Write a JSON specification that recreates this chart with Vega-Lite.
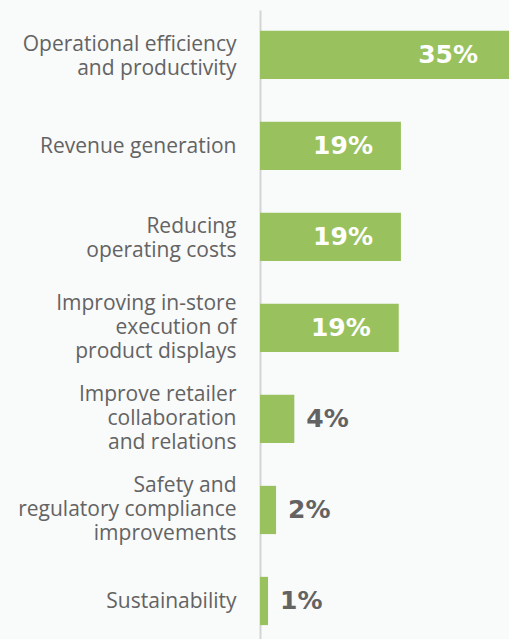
{
  "$schema": "https://vega.github.io/schema/vega-lite/v6.json",
  "autosize": "none",
  "width": 249,
  "height": 629,
  "padding": {"left": 260, "top": 10, "right": 0, "bottom": 0},
  "background": "#f9fafa",
  "config": {"view": {"stroke": null}},
  "data": {"values": [
    {"cat": "Operational efficiency|and productivity", "value": 35, "label": "35%", "pos": "in1"},
    {"cat": "Revenue generation", "value": 19.3, "label": "19%", "pos": "in"},
    {"cat": "Reducing|operating costs", "value": 19.3, "label": "19%", "pos": "in"},
    {"cat": "Improving in-store|execution of|product displays", "value": 19.0, "label": "19%", "pos": "in"},
    {"cat": "Improve retailer|collaboration|and relations", "value": 4.7, "label": "4%", "pos": "out"},
    {"cat": "Safety and|regulatory compliance|improvements", "value": 2.2, "label": "2%", "pos": "out"},
    {"cat": "Sustainability", "value": 1.1, "label": "1%", "pos": "out"}
  ]},
  "encoding": {
    "y": {
      "field": "cat", "type": "nominal", "sort": null,
      "scale": {"paddingInner": 0.47, "paddingOuter": 0.191, "align": 0.6},
      "axis": {
        "title": null, "ticks": false, "labelPadding": 24,
        "labelExpr": "split(datum.label, '|')",
        "labelFont": "Open Sans", "labelFontSize": 21, "labelColor": "#636363",
        "labelLineHeight": 24, "labelLimit": 400,
        "labelOffset": {"condition": [
          {"test": "length(split(datum.value, '|')) == 3", "value": -24},
          {"test": "length(split(datum.value, '|')) == 2", "value": -10}
        ], "value": 1},
        "domainColor": "#d4d4d4", "domainWidth": 2
      }
    },
    "x": {
      "field": "value", "type": "quantitative",
      "scale": {"domain": [0, 34.1], "nice": false, "zero": true},
      "axis": null
    }
  },
  "layer": [
    {"mark": {"type": "bar", "color": "#99c25f", "clip": true}},
    {
      "transform": [{"filter": "datum.pos == 'in1'"}],
      "mark": {"type": "text", "align": "right", "baseline": "middle", "dx": -31, "font": "DejaVu Sans", "fontWeight": "bold", "fontSize": 25, "color": "#ffffff"},
      "encoding": {"text": {"field": "label"}, "x": {"datum": 34.1}}
    },
    {
      "transform": [{"filter": "datum.pos == 'in'"}],
      "mark": {"type": "text", "align": "right", "baseline": "middle", "dx": -28, "font": "DejaVu Sans", "fontWeight": "bold", "fontSize": 25, "color": "#ffffff"},
      "encoding": {"text": {"field": "label"}}
    },
    {
      "transform": [{"filter": "datum.pos == 'out'"}],
      "mark": {"type": "text", "align": "left", "baseline": "middle", "dx": 12, "font": "DejaVu Sans", "fontWeight": "bold", "fontSize": 25, "color": "#636363"},
      "encoding": {"text": {"field": "label"}}
    }
  ]
}
